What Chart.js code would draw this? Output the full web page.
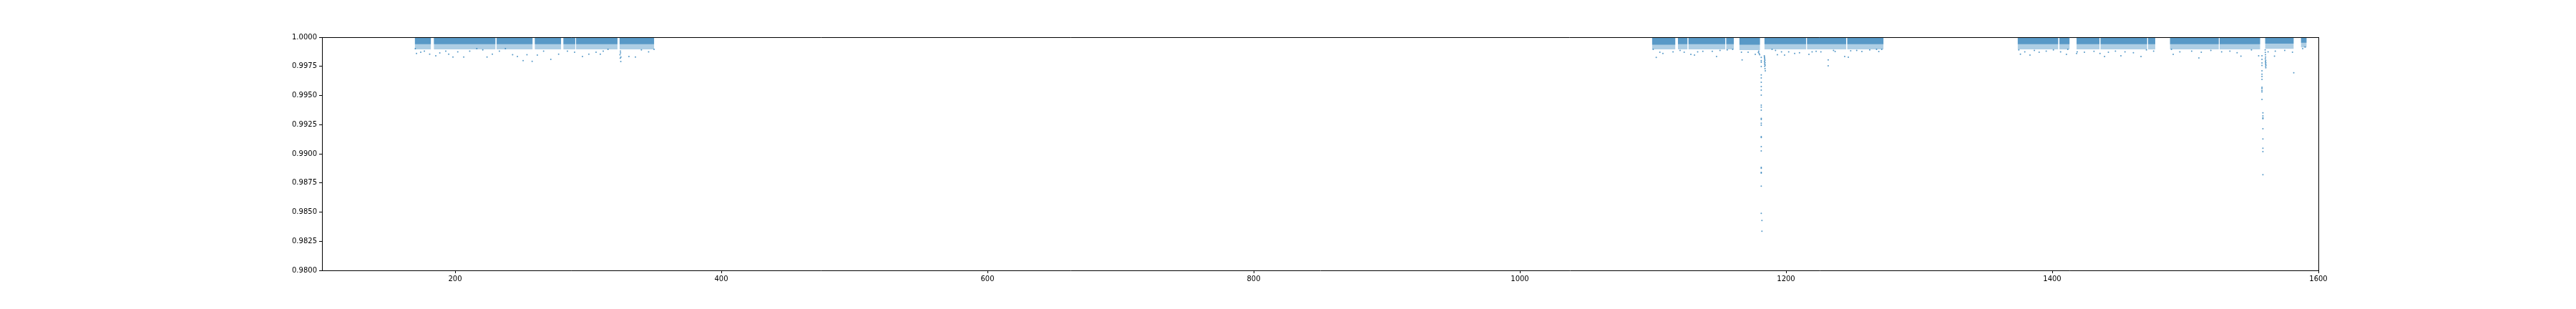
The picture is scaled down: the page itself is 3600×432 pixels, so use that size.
<!DOCTYPE html>
<html>
<head>
<meta charset="utf-8">
<script src="https://cdn.jsdelivr.net/npm/chart.js@4.4.1/dist/chart.umd.min.js"></script>
<style>
    html, body { margin: 0; padding: 0; background: #fff; }
    #wrap { width: 3600px; height: 432px; }
</style>
</head>
<body>
<div id="wrap"><canvas id="lightCurve" width="3600" height="432"></canvas></div>
<script>
// observing segments (time), and how deep the dense / sparse part of the cloud goes
const segStart = [169.7, 184.0, 231.2, 259.8, 281.3, 290.9, 323.5,
                  1099.3, 1118.7, 1126.6, 1155.0, 1164.9, 1183.7, 1215.7, 1245.9,
                  1374.0, 1405.4, 1418.3, 1436.2, 1472.0, 1488.4, 1525.8, 1559.9, 1586.8];
const segEnd   = [181.9, 230.4, 258.3, 279.7, 290.3, 322.0, 349.6,
                  1116.9, 1126.0, 1154.4, 1160.8, 1180.5, 1215.1, 1245.2, 1273.3,
                  1404.6, 1413.1, 1435.5, 1471.4, 1477.4, 1525.2, 1556.3, 1581.5, 1591.2];
const segCore  = [0.99940, 0.99940, 0.99940, 0.99940, 0.99940, 0.99940, 0.99940,
                  0.99935, 0.99940, 0.99940, 0.99940, 0.99935, 0.99940, 0.99940, 0.99940,
                  0.99940, 0.99940, 0.99940, 0.99940, 0.99940, 0.99940, 0.99940, 0.99945, 0.99952];
const segSparse = [0.99895, 0.99895, 0.99895, 0.99895, 0.99895, 0.99895, 0.99895,
                   0.99895, 0.99895, 0.99895, 0.99895, 0.99890, 0.99895, 0.99895, 0.99895,
                   0.99895, 0.99895, 0.99895, 0.99895, 0.99895, 0.99895, 0.99895, 0.99900, 0.99912];

// points below the cloud
const lowTime = [
    170.1, 171.0, 174.2, 176.9, 180.9, 185.5, 188.5, 193.0, 195.2, 198.4, 202.0, 206.5, 211.0, 216.3,
    220.8, 224.0, 228.0, 233.3, 237.8, 243.2, 246.8, 251.1, 254.0, 257.9, 261.8, 266.5, 271.9, 277.8,
    284.4, 289.8, 295.7, 300.5, 305.9, 309.1, 311.3, 314.9, 323.9, 324.1, 324.2, 324.3, 324.5, 324.6,
    330.6, 335.5, 340.0, 345.4, 349.5,
    1100.2, 1102.5, 1105.2, 1107.5, 1115.1, 1120.4, 1123.5, 1128.5, 1131.2, 1133.6, 1137.5, 1144.6,
    1147.8, 1150.4, 1155.8, 1159.9, 1166.5, 1167.0, 1171.5, 1176.9, 1179.2, 1179.5, 1179.8, 1180.2,
    1189.5, 1192.1, 1193.5, 1196.6, 1198.9, 1202.0, 1206.5, 1210.1, 1217.2, 1219.6, 1222.6, 1226.2,
    1231.7, 1231.7, 1235.7, 1236.9, 1244.1, 1246.8, 1248.6, 1253.1, 1257.0, 1262.9, 1268.0, 1269.7, 1271.9,
    1374.9, 1376.1, 1379.4, 1383.3, 1386.6, 1390.2, 1395.5, 1400.9, 1406.3, 1410.7, 1411.7, 1418.3,
    1418.8, 1424.2, 1431.4, 1435.9, 1439.3, 1442.2, 1447.5, 1451.6, 1454.7, 1461.0, 1466.7, 1470.8,
    1476.2, 1489.6, 1490.9, 1495.9, 1504.8, 1510.2, 1512.0, 1519.2, 1527.3, 1533.5, 1538.9, 1541.8,
    1549.7, 1555.1, 1562.2, 1567.0, 1567.6, 1574.7, 1580.5, 1581.5, 1588.2, 1590.0
];
const lowFlux = [
    0.99902, 0.99861, 0.99871, 0.99881, 0.99854, 0.99840, 0.99865, 0.99881, 0.99854, 0.99830, 0.99875, 0.99830, 0.99881, 0.99902,
    0.99891, 0.99830, 0.99854, 0.99881, 0.99902, 0.99850, 0.99834, 0.99799, 0.99850, 0.99793, 0.99846, 0.99881, 0.99810, 0.99854,
    0.99881, 0.99871, 0.99834, 0.99854, 0.99871, 0.99854, 0.99881, 0.99896, 0.99850, 0.99820, 0.99880, 0.99865, 0.99791, 0.99830,
    0.99834, 0.99830, 0.99891, 0.99875, 0.99896,
    0.99896, 0.99826, 0.99871, 0.99861, 0.99875, 0.99887, 0.99871, 0.99853, 0.99846, 0.99875, 0.99879, 0.99879,
    0.99834, 0.99887, 0.99891, 0.99896, 0.99871, 0.99805, 0.99871, 0.99853, 0.99870, 0.99880, 0.99860, 0.99850,
    0.99896, 0.99887, 0.99850, 0.99875, 0.99846, 0.99875, 0.99861, 0.99867, 0.99853, 0.99875, 0.99879, 0.99875,
    0.99805, 0.99754, 0.99887, 0.99877, 0.99834, 0.99828, 0.99883, 0.99887, 0.99877, 0.99891, 0.99896, 0.99877, 0.99896,
    0.99891, 0.99854, 0.99875, 0.99846, 0.99887, 0.99871, 0.99881, 0.99891, 0.99875, 0.99853, 0.99896, 0.99861,
    0.99875, 0.99871, 0.99879, 0.99861, 0.99834, 0.99871, 0.99881, 0.99840, 0.99875, 0.99867, 0.99834, 0.99891,
    0.99881, 0.99896, 0.99853, 0.99875, 0.99881, 0.99822, 0.99871, 0.99887, 0.99875, 0.99881, 0.99867, 0.99838,
    0.99891, 0.99840, 0.99875, 0.99838, 0.99881, 0.99887, 0.99871, 0.99695, 0.99902, 0.99916
];

// the two deep dips and the dense bits right after them
const dipTime = [
    1181.4, 1181.4, 1181.4, 1181.4, 1181.4, 1181.4, 1181.4, 1181.4, 1181.4, 1181.4, 1181.4, 1181.4, 1181.4,
    1181.4, 1181.4, 1181.4, 1181.4, 1181.4, 1181.4, 1181.4, 1181.4, 1181.4, 1181.4, 1181.9, 1181.9,
    1181.4, 1181.4, 1181.4, 1181.4,
    1183.7, 1183.8, 1183.9, 1184.0, 1184.1, 1183.8, 1184.2, 1183.9, 1184.3, 1184.0, 1184.2, 1184.4,
    1557.6, 1557.6, 1557.6, 1557.6, 1557.6, 1557.6, 1557.6, 1557.6, 1557.6, 1557.6, 1557.6, 1557.6, 1557.6,
    1558.3, 1558.3, 1558.3, 1558.3, 1558.3, 1558.3, 1558.3, 1558.3, 1558.3,
    1560.0, 1560.1, 1560.2, 1560.3, 1560.1, 1560.4, 1560.2, 1560.5, 1560.3, 1560.6, 1560.4, 1560.5
];
const dipFlux = [
    0.99676, 0.99650, 0.99613, 0.99576, 0.99546, 0.99503, 0.99417, 0.99400, 0.99374, 0.99304, 0.99294, 0.99263, 0.99245,
    0.99147, 0.99140, 0.99061, 0.99024, 0.98883, 0.98876, 0.98841, 0.98835, 0.98723, 0.98490, 0.98428, 0.98336,
    0.99826, 0.99799, 0.99785, 0.99748,
    0.99840, 0.99830, 0.99820, 0.99810, 0.99800, 0.99790, 0.99780, 0.99770, 0.99760, 0.99750, 0.99730, 0.99711,
    0.99840, 0.99810, 0.99779, 0.99758, 0.99711, 0.99683, 0.99662, 0.99638, 0.99570, 0.99560, 0.99543, 0.99531, 0.99466,
    0.99351, 0.99325, 0.99308, 0.99300, 0.99214, 0.99128, 0.99048, 0.99019, 0.98821,
    0.99891, 0.99870, 0.99850, 0.99830, 0.99815, 0.99800, 0.99790, 0.99780, 0.99770, 0.99760, 0.99750, 0.99738
];

const xTicks = [200, 400, 600, 800, 1000, 1200, 1400, 1600];
const yTicks = [0.9800, 0.9825, 0.9850, 0.9875, 0.9900, 0.9925, 0.9950, 0.9975, 1.0000];

const pointColor = 'rgba(31, 119, 180, 0.75)';

const datasets = [];
for (let i = 0; i < segStart.length; i++) {
    // sparse part of the cloud
    datasets.push({
        type: 'line',
        data: [{ x: segStart[i], y: segSparse[i] }, { x: segEnd[i], y: segSparse[i] }],
        fill: { value: 1.0 },
        backgroundColor: 'rgba(31, 119, 180, 0.36)',
        borderWidth: 0,
        pointRadius: 0
    });
    // dense part
    datasets.push({
        type: 'line',
        data: [{ x: segStart[i], y: segCore[i] }, { x: segEnd[i], y: segCore[i] }],
        fill: { value: 1.0 },
        backgroundColor: 'rgba(31, 119, 180, 0.6)',
        borderWidth: 0,
        pointRadius: 0
    });
}
datasets.push({
    type: 'scatter',
    data: lowTime.map((t, i) => ({ x: t, y: lowFlux[i] })),
    backgroundColor: pointColor,
    borderWidth: 0,
    pointRadius: 1
});
datasets.push({
    type: 'scatter',
    data: dipTime.map((t, i) => ({ x: t, y: dipFlux[i] })),
    backgroundColor: pointColor,
    borderWidth: 0,
    pointRadius: 1
});

// top and right spines
const frame = {
    id: 'frame',
    afterDatasetsDraw(chart) {
        const a = chart.chartArea;
        const c = chart.ctx;
        c.save();
        c.strokeStyle = '#000';
        c.lineWidth = 1;
        c.beginPath();
        c.moveTo(Math.round(a.left), Math.round(a.top) + 0.5);
        c.lineTo(Math.round(a.right), Math.round(a.top) + 0.5);
        c.moveTo(Math.round(a.right) + 0.5, Math.round(a.top));
        c.lineTo(Math.round(a.right) + 0.5, Math.round(a.bottom));
        c.stroke();
        c.restore();
    }
};

const tickFont = { family: 'DejaVu Sans', size: 10 };

new Chart(document.getElementById('lightCurve').getContext('2d'), {
    type: 'scatter',
    data: { datasets: datasets },
    options: {
        responsive: false,
        animation: false,
        layout: { padding: { left: 370, right: 360, top: 52, bottom: 24 } },
        plugins: {
            legend: { display: false },
            tooltip: { enabled: false }
        },
        scales: {
            x: {
                type: 'linear',
                min: 100,
                max: 1600,
                afterBuildTicks: axis => { axis.ticks = xTicks.map(v => ({ value: v })); },
                afterFit: axis => { axis.height = 30; },
                grid: { drawOnChartArea: false, tickLength: 4, tickColor: '#000' },
                border: { color: '#000', width: 1 },
                ticks: {
                    color: '#000',
                    font: tickFont,
                    padding: 2,
                    maxRotation: 0,
                    autoSkip: false,
                    callback: v => String(v)
                }
            },
            y: {
                type: 'linear',
                min: 0.98,
                max: 1.0,
                afterBuildTicks: axis => { axis.ticks = yTicks.map(v => ({ value: v })); },
                afterFit: axis => { axis.width = 80; },
                grid: { drawOnChartArea: false, tickLength: 4, tickColor: '#000' },
                border: { color: '#000', width: 1 },
                ticks: {
                    color: '#000',
                    font: tickFont,
                    padding: 3,
                    autoSkip: false,
                    callback: v => v.toFixed(4)
                }
            }
        }
    },
    plugins: [frame]
});
</script>
</body>
</html>
